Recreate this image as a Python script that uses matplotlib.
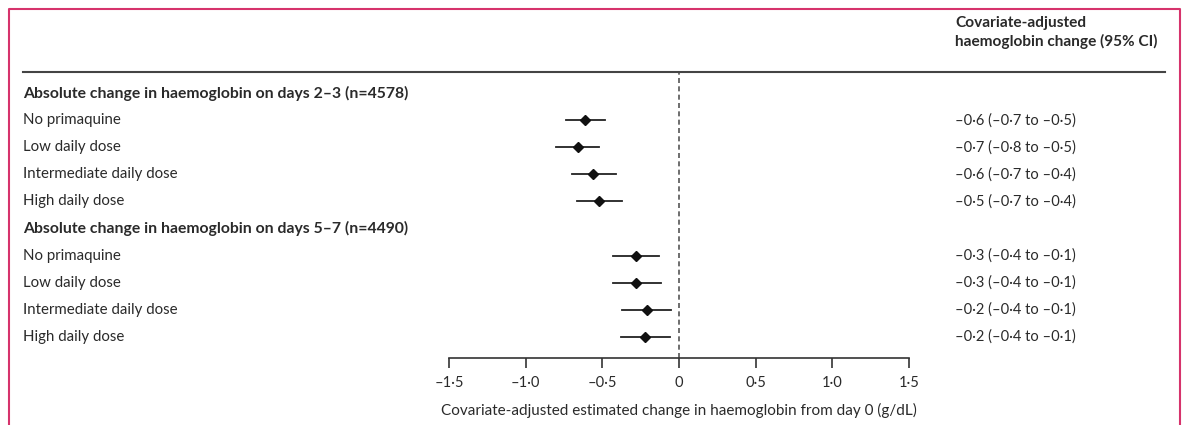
import matplotlib.pyplot as plt
from matplotlib.lines import Line2D
from matplotlib.transforms import blended_transform_factory

plt.rcParams['font.family'] = ['Lato', 'DejaVu Sans']

# rows, top to bottom
row_labels = ['Absolute change in haemoglobin on days 2–3 (n=4578)',
              'No primaquine', 'Low daily dose', 'Intermediate daily dose', 'High daily dose',
              'Absolute change in haemoglobin on days 5–7 (n=4490)',
              'No primaquine', 'Low daily dose', 'Intermediate daily dose', 'High daily dose']
is_header = [True, False, False, False, False, True, False, False, False, False]
est = [None, -0.61, -0.66, -0.56, -0.52, None, -0.28, -0.28, -0.21, -0.22]
lo = [None, -0.74, -0.80, -0.70, -0.665, None, -0.43, -0.43, -0.37, -0.38]
hi = [None, -0.48, -0.52, -0.41, -0.375, None, -0.13, -0.12, -0.05, -0.06]
ci_text = ['', '–0·6 (–0·7 to –0·5)', '–0·7 (–0·8 to –0·5)', '–0·6 (–0·7 to –0·4)',
           '–0·5 (–0·7 to –0·4)', '', '–0·3 (–0·4 to –0·1)', '–0·3 (–0·4 to –0·1)',
           '–0·2 (–0·4 to –0·1)', '–0·2 (–0·4 to –0·1)']
xticks = [-1.5, -1.0, -0.5, 0, 0.5, 1.0, 1.5]
xtick_labels = ['–1·5', '–1·0', '–0·5', '0', '0·5', '1·0', '1·5']

W, H = 1182, 425
fig = plt.figure(figsize=(W / 100, H / 100), dpi=100)
txt = '#2a2a2a'

# forest axes: x -1.5..1.5 spans px 449..909, y spans px 72..358
top_px, bot_px = 72, 358
ax = fig.add_axes([449 / W, 1 - bot_px / H, 460 / W, (bot_px - top_px) / H])
row_h = 27.1
y0 = 93
ax.set_xlim(-1.5, 1.5)
ax.set_ylim((bot_px - y0) / row_h, (top_px - y0) / row_h)
for s in ['top', 'right', 'left']:
    ax.spines[s].set_visible(False)
ax.spines['bottom'].set_color('#333333')
ax.spines['bottom'].set_linewidth(1.2)
ax.set_yticks([])
ax.set_xticks(xticks)
ax.set_xticklabels(xtick_labels, fontsize=10.5, color=txt)
ax.tick_params(axis='x', direction='out', length=7, width=1.2, color='#333333', pad=6)
ax.set_xlabel('Covariate-adjusted estimated change in haemoglobin from day 0 (g/dL)',
              fontsize=11, color=txt, labelpad=9)
ax.axvline(0, color='#555555', lw=1.2, ls=(0, (3, 2)), zorder=1)

for i in range(len(row_labels)):
    if est[i] is None:
        continue
    ax.plot([lo[i], hi[i]], [i, i], color='#222222', lw=1.3, zorder=2)
    ax.plot(est[i], i, marker='D', ms=5.5, color='#111111', zorder=3)

trans = blended_transform_factory(fig.transFigure, ax.transData)
for i, lab in enumerate(row_labels):
    if is_header[i]:
        ax.text(23 / W, i, lab, transform=trans, ha='left', va='center', fontsize=11.3,
                fontweight='bold', color=txt, clip_on=False)
    else:
        ax.text(23 / W, i, lab, transform=trans, ha='left', va='center', fontsize=10.8,
                color=txt, clip_on=False)
    if ci_text[i]:
        ax.text(955 / W, i, ci_text[i], transform=trans, ha='left', va='center',
                fontsize=10.5, color=txt, clip_on=False)

fig.text(955 / W, 1 - 23 / H, 'Covariate-adjusted', ha='left', va='center',
         fontsize=11.1, fontweight='bold', color=txt)
fig.text(955 / W, 1 - 41 / H, 'haemoglobin change (95% CI)', ha='left', va='center',
         fontsize=11.1, fontweight='bold', color=txt)

# rule under header
fig.add_artist(Line2D([23 / W, 1165 / W], [1 - 72 / H, 1 - 72 / H], color='#444444', lw=1.5))
# pink frame (open at bottom)
frame = '#d6336c'
fig.add_artist(Line2D([8.5 / W, 8.5 / W, 1180 / W, 1180 / W],
                      [0, 1 - 9 / H, 1 - 9 / H, 0], color=frame, lw=1.5))

fig.savefig('out.png', dpi=100)
